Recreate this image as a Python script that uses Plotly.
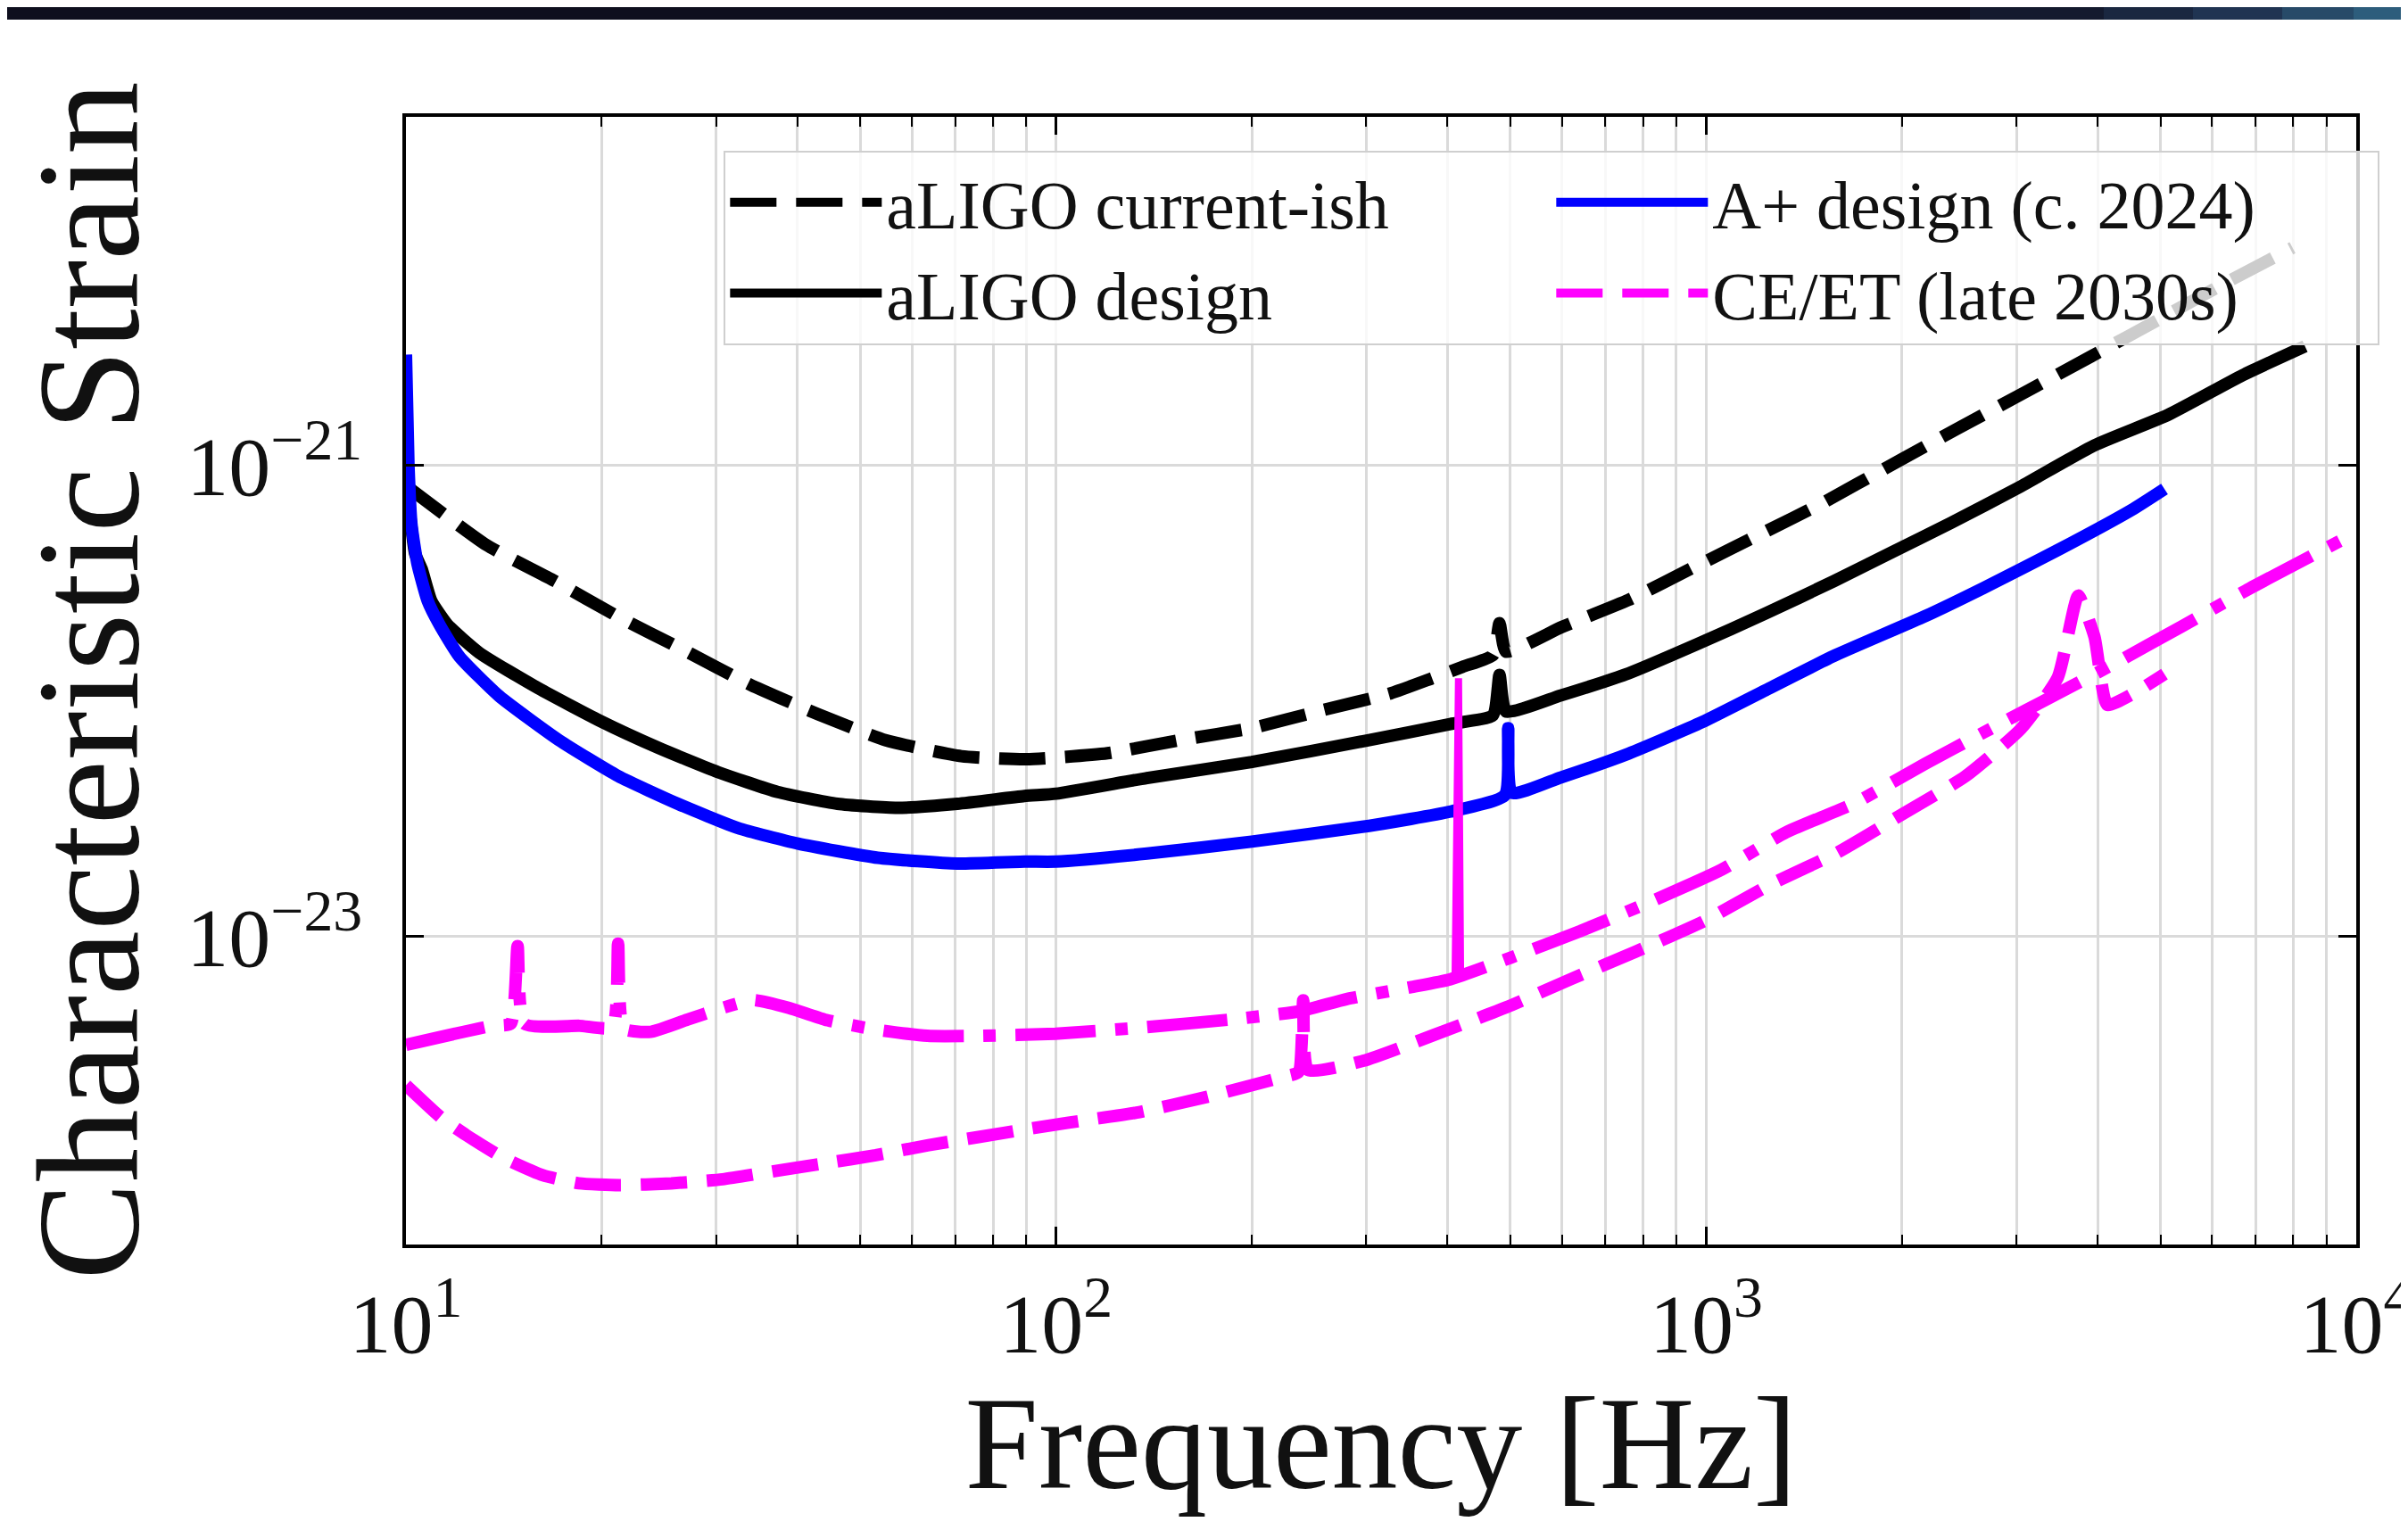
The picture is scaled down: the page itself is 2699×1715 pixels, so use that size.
import plotly.graph_objects as go

# ---------------- data ----------------
# aLIGO current-ish (black dashed)
F_CURRENT = [10, 13.3, 16.9, 21.2, 26.8, 33.9, 43.1, 54.7, 71.5, 90, 120, 155, 200, 257,
             327, 378, 422, 470, 481, 492, 600, 760, 968, 1218, 1514, 1928, 2440, 3090,
             3910, 5000, 6300, 7980]
H_CURRENT = [8.2e-22, 4.59e-22, 3.24e-22, 2.28e-22, 1.64e-22, 1.17e-22, 8.77e-23, 6.81e-23,
             5.83e-23, 5.66e-23, 6.0e-23, 6.82e-23, 7.67e-23, 9.14e-23, 1.077e-22, 1.245e-22,
             1.396e-22, 1.567e-22, 2.14e-22, 1.62e-22, 2.06e-22, 2.685e-22, 3.75e-22, 5.14e-22,
             6.95e-22, 1.005e-21, 1.435e-21, 2.04e-21, 2.90e-21, 4.2e-21, 5.96e-21, 8.39e-21]

# aLIGO design (black solid)
F_DESIGN = [10, 10.33, 10.57, 10.94, 11.58, 12.97, 16.0, 19.8, 24.5, 30.2, 37.3, 46.1, 57,
            70.5, 89.4, 100, 138, 200, 303, 404, 470, 481, 492, 597, 760, 968, 1234, 1570,
            1928, 2378, 3050, 3955, 5140, 6680, 8340]
H_DESIGN = [9.12e-22, 4.22e-22, 3.64e-22, 2.66e-22, 2.11e-22, 1.60e-22, 1.13e-22, 8.28e-23,
            6.31e-23, 4.99e-23, 4.11e-23, 3.66e-23, 3.52e-23, 3.66e-23, 3.95e-23, 4.04e-23,
            4.71e-23, 5.51e-23, 6.82e-23, 7.98e-23, 8.71e-23, 1.29e-22, 9.02e-23, 1.054e-22,
            1.31e-22, 1.74e-22, 2.35e-22, 3.22e-22, 4.27e-22, 5.69e-22, 8.15e-22, 1.216e-21,
            1.64e-21, 2.41e-21, 3.20e-21]

# A+ design (blue solid)
F_APLUS = [10, 10.09, 10.2, 10.42, 10.8, 11.26, 12.08, 13.92, 17.2, 21.2, 26.2, 32.4, 40.1,
           53.2, 70.5, 89.4, 100, 138, 200, 303, 404, 490, 496, 502, 597, 760, 986, 1234,
           1570, 2172, 2673, 3476, 4510, 5070]
H_APLUS = [2.95e-21, 1.0e-21, 5.58e-22, 3.80e-22, 2.66e-22, 2.11e-22, 1.545e-22, 1.047e-22,
           6.81e-23, 4.80e-23, 3.66e-23, 2.89e-23, 2.48e-23, 2.16e-23, 2.04e-23, 2.08e-23,
           2.08e-23, 2.25e-23, 2.53e-23, 2.95e-23, 3.39e-23, 3.98e-23, 7.67e-23, 4.07e-23,
           4.73e-23, 5.98e-23, 8.13e-23, 1.11e-22, 1.55e-22, 2.29e-22, 3.02e-22, 4.37e-22,
           6.46e-22, 7.94e-22]

# CE (magenta dashed)
F_CE = [10, 11.31, 12.39, 14.07, 16.25, 18.45, 21.3, 25.6, 30.7, 36.8, 44.1, 52.8, 63.4, 76,
        91, 104, 133, 171, 224, 236, 240, 244, 297, 382, 493, 620, 779, 993, 1264, 1591,
        2005, 2505, 3050, 3475, 3735, 3957, 4140, 4510, 5070]
H_CE = [2.34e-24, 1.71e-24, 1.435e-24, 1.156e-24, 9.70e-25, 8.97e-25, 8.81e-25, 8.97e-25,
        9.33e-25, 1.009e-24, 1.091e-24, 1.18e-24, 1.30e-24, 1.41e-24, 1.53e-24, 1.62e-24,
        1.79e-24, 2.09e-24, 2.54e-24, 2.66e-24, 5.37e-24, 2.72e-24, 2.97e-24, 3.83e-24,
        5.01e-24, 6.61e-24, 8.63e-24, 1.164e-23, 1.68e-23, 2.27e-23, 3.31e-23, 4.79e-23,
        7.62e-23, 1.26e-22, 2.80e-22, 1.87e-22, 9.62e-23, 1.064e-22, 1.30e-22]

# ET (magenta dash-dot)
F_ET = [10, 13.55, 14.5, 14.85, 15.2, 18.5, 20.8, 21.2, 21.6, 23.8, 27.1, 30.7, 34.2, 38.8,
        44.1, 52.8, 63.4, 76, 99.8, 138, 189, 238, 280, 351, 404, 500, 640, 828, 1055, 1327,
        1690, 2172, 2675, 3106, 4285, 5385, 6760, 10000]
H_ET = [3.47e-24, 4.18e-24, 4.27e-24, 9.12e-24, 4.27e-24, 4.18e-24, 4.12e-24, 9.33e-24,
        4.07e-24, 3.94e-24, 4.44e-24, 4.98e-24, 5.38e-24, 4.98e-24, 4.44e-24, 4.03e-24,
        3.79e-24, 3.79e-24, 3.87e-24, 4.13e-24, 4.47e-24, 4.83e-24, 5.43e-24, 6.10e-24,
        6.59e-24, 8.13e-24, 1.054e-23, 1.42e-23, 1.92e-23, 2.77e-23, 3.68e-23, 5.41e-23,
        7.36e-23, 9.14e-23, 1.46e-22, 2.07e-22, 2.94e-22, 5.19e-22]

# ET narrow line feature near 416 Hz (thin solid)
F_ET_SPIKE = [411, 416, 419]
H_ET_SPIKE = [6.7e-24, 1.247e-22, 6.9e-24]

# axis ticks
X_TICK_VALS = [10, 100, 1000, 10000]
X_TICK_TEXT = ["10<sup>1</sup>", "10<sup>2</sup>", "10<sup>3</sup>", "10<sup>4</sup>"]
X_MINOR_VALS = [m * 10 ** k for k in (1, 2, 3) for m in range(2, 10)]
Y_TICK_VALS = [1e-23, 1e-21]
Y_TICK_TEXT = ["10<sup>\u221223</sup>", "10<sup>\u221221</sup>"]

# ---------------- figure ----------------
W, H = 2699, 1715
ML, MR, MT, MB = 447, 66, 123, 328
LW = 14
DASH = "52px,22px"
DASHDOT = "90px,22px,14px,22px"
SERIF = "Liberation Serif, Times New Roman, serif"
SMOOTH = 0.5

fig = go.Figure()
fig.add_trace(go.Scatter(x=F_CURRENT, y=H_CURRENT, mode="lines", name="aLIGO current-ish",
                         line=dict(color="black", width=LW, dash=DASH, shape="spline",
                                   smoothing=SMOOTH), legendrank=1))
fig.add_trace(go.Scatter(x=F_DESIGN, y=H_DESIGN, mode="lines", name="aLIGO design",
                         line=dict(color="black", width=LW, shape="spline", smoothing=SMOOTH),
                         legendrank=3))
fig.add_trace(go.Scatter(x=F_APLUS, y=H_APLUS, mode="lines", name="A+ design (c. 2024)",
                         line=dict(color="#0000ff", width=LW, shape="spline", smoothing=SMOOTH),
                         legendrank=2))
fig.add_trace(go.Scatter(x=F_CE, y=H_CE, mode="lines", name="CE/ET (late 2030s)",
                         line=dict(color="#ff00ff", width=LW, dash=DASH, shape="spline",
                                   smoothing=SMOOTH), legendrank=4))
fig.add_trace(go.Scatter(x=F_ET, y=H_ET, mode="lines", name="ET", showlegend=False,
                         line=dict(color="#ff00ff", width=LW, dash=DASHDOT, shape="spline",
                                   smoothing=SMOOTH)))
fig.add_trace(go.Scatter(x=F_ET_SPIKE, y=H_ET_SPIKE, mode="lines", showlegend=False,
                         line=dict(color="#ff00ff", width=8)))

axis_common = dict(
    showline=True, linecolor="black", linewidth=4, mirror="allticks",
    ticks="inside", tickcolor="black", tickwidth=3, ticklen=20,
    showgrid=True, gridcolor="#dadada", gridwidth=3, zeroline=False,
    tickfont=dict(family=SERIF, size=94, color="#111111"),
    automargin=True,
)

fig.update_xaxes(
    type="log", range=[1, 4], tickmode="array", tickvals=X_TICK_VALS, ticktext=X_TICK_TEXT,
    minor=dict(tickmode="array", tickvals=X_MINOR_VALS, ticks="inside", ticklen=11,
               tickwidth=2, tickcolor="black", showgrid=True, gridcolor="#dadada", gridwidth=3),
    title=dict(text="Frequency [Hz]", font=dict(family=SERIF, size=148, color="#111111"),
               standoff=0),
    ticklabelstandoff=4,
    **axis_common,
)
fig.update_yaxes(
    type="log", range=[-24.307, -19.521], tickmode="array", tickvals=Y_TICK_VALS,
    ticktext=Y_TICK_TEXT,
    title=dict(text="Characteristic Strain", font=dict(family=SERIF, size=164, color="#111111"),
               standoff=8),
    ticklabelstandoff=26,
    **axis_common,
)

# dark strip across the very top of the image
pw, ph = W - ML - MR, H - MT - MB
def px2paper_x(px):
    return (px - ML) / pw
def px2paper_y(py):
    return (H - MB - py) / ph
BAND = [(0, 2200, "#0e0f1e"), (2200, 2350, "#141a2e"), (2350, 2450, "#1a2740"),
        (2450, 2550, "#203452"), (2550, 2630, "#274a68"), (2630, 2699, "#2d5d7c")]
shapes = []
for x0, x1, c in BAND:
    shapes.append(dict(type="rect", xref="paper", yref="paper", x0=px2paper_x(x0),
                       x1=px2paper_x(x1), y0=px2paper_y(14), y1=px2paper_y(0),
                       fillcolor=c, line=dict(width=0), layer="above"))

fig.update_layout(
    width=W, height=H,
    margin=dict(l=ML, r=MR, t=MT, b=MB, autoexpand=False),
    paper_bgcolor="white", plot_bgcolor="white",
    font=dict(family=SERIF, color="#111111"),
    shapes=shapes,
    legend=dict(
        orientation="h", x=0.163, y=0.9700, xanchor="left", yanchor="top",
        bgcolor="rgba(255,255,255,0.8)", bordercolor="#cfcfcf", borderwidth=2,
        font=dict(family=SERIF, size=76, color="#111111"),
        itemwidth=170, entrywidth=741, entrywidthmode="pixels",
        traceorder="normal",
    ),
    showlegend=True,
)

fig.write_html("out.html")
